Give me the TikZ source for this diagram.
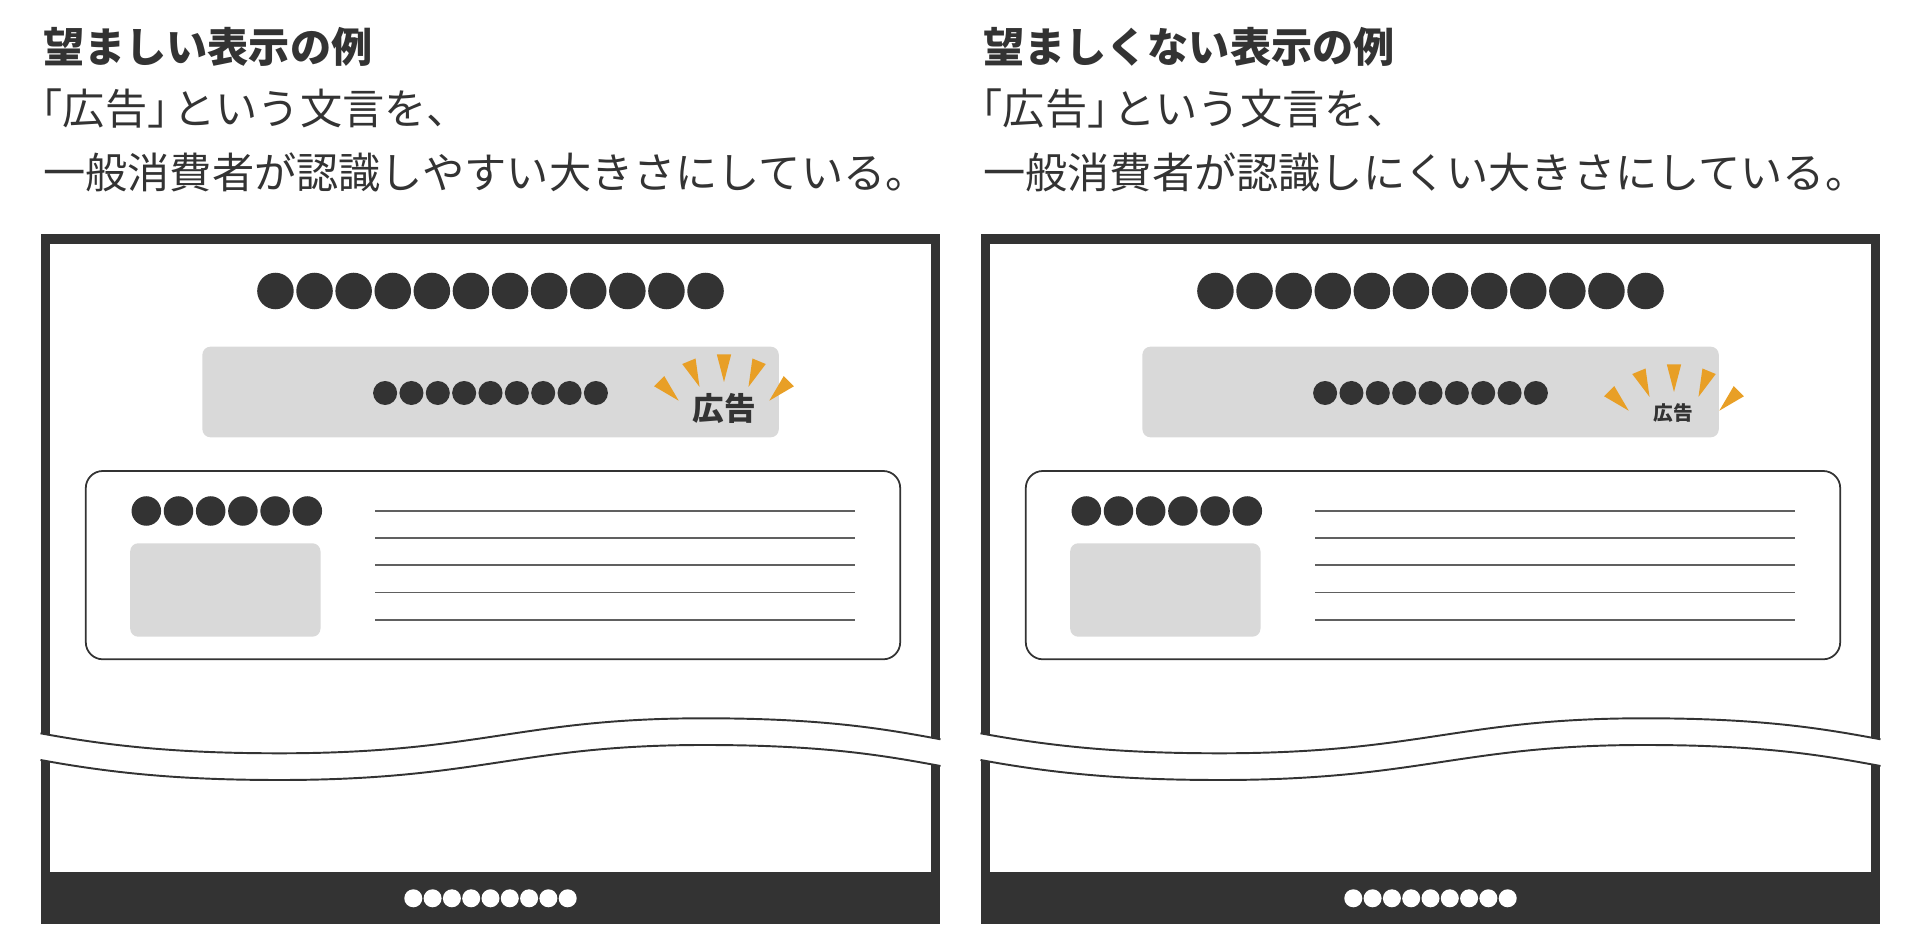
\documentclass[tikz,border=0pt]{standalone}
\usepackage{fontspec}
\setmainfont{Noto Sans CJK JP}
\definecolor{ink}{HTML}{333333}
\definecolor{panelgray}{HTML}{D9D9D9}
\definecolor{burst}{HTML}{E89F26}
\definecolor{rulegray}{HTML}{606060}

\begin{document}
\begin{tikzpicture}[x=0.01cm, y=-0.01cm,
  dot/.style={circle, fill=ink, inner sep=0pt},
  bigdot/.style={dot, minimum size=3.65mm},
  addot/.style={dot, minimum size=2.4mm},
  carddot/.style={dot, minimum size=2.95mm},
  footdot/.style={circle, fill=white, inner sep=0pt, minimum size=1.8mm},
  headline/.style={anchor=west, inner sep=0pt, text=ink, font=\fontsize{12pt}{13pt}\selectfont},
  adtag/.style={inner sep=0pt, text=ink},
  panelbox/.style={fill=panelgray, rounded corners=0.8mm},
  rule/.style={draw=rulegray, line width=0.5pt},
  wave/.style={draw=ink, line width=0.55pt}]
\useasboundingbox (0,0) rectangle (1920,946);

\foreach \p/\dx/\headtext/\bodytext/\adsize/\adx/\ady/\bx/\by in {
  L/0/{望ましい表示の例}/{一般消費者が認識しやすい大きさにしている。}/9/724/408/724/446,
  R/940/{望ましくない表示の例}/{一般消費者が認識しにくい大きさにしている。}/5.6/733.5/413/734/456}{
\begin{scope}[shift={(\dx,0)}]
% heading
\node[headline, font=\bfseries\fontsize{11.7pt}{13pt}\selectfont] (head\p) at (42.5,46.5) {\headtext};
\node[headline] (lead\p) at (20,109) {「広告」\kern-0.38em という文言を、};
\node[headline] (body\p) at (42.5,172) {\bodytext};

% page frame and footer
\draw[ink, line width=2.73pt] (45.6,238.8) rectangle (935.6,900);
\fill[ink] (40.8,871.7) rectangle (940.4,924);
\foreach \i in {0,...,11}
  \node[bigdot] (top\p\i) at ({490.5+(\i-5.5)*39.1},291) {};

% ad banner
\fill[panelbox] (202.4,346.7) rectangle (778.8,437.3);
\foreach \i in {0,...,8}
  \node[addot] (ad\p\i) at ({490.5+(\i-4)*26.35},393) {};
\node[adtag, font=\bfseries\fontsize{\adsize pt}{\adsize pt}\selectfont] (tag\p) at (\adx,\ady) {広告};
\foreach \a in {-45,-67.5,-90,-112.5,-135}
  \fill[burst, shift={(\bx,\by)}] (\a:64) -- ({\a-4.5}:92) -- ({\a+4.5}:92) -- cycle;

% content card
\draw[ink, line width=0.5pt, rounded corners=1.7mm] (85.8,471) rectangle (900.2,659.3);
\foreach \i in {0,...,5}
  \node[carddot] (card\p\i) at ({146.3+\i*32.2},511) {};
\fill[panelbox] (130.2,543.3) rectangle (320.5,636.7);
\foreach \k in {0,...,4}
  \draw[rule] (375.4,{510.7+\k*27.3}) -- (855.3,{510.7+\k*27.3});

% torn gap
\fill[white] (40,733.3) .. controls (120,748) and (190,753.3) .. (280,753.3)
  .. controls (480,753.3) and (520,718.3) .. (704,718.3)
  .. controls (820,718.3) and (880,728) .. (941,739.3) -- (941,766)
  .. controls (880,754.7) and (820,745) .. (704,745)
  .. controls (520,745) and (480,780) .. (280,780)
  .. controls (190,780) and (120,774.7) .. (40,760) -- cycle;
\foreach \s in {0,26.7}
  \draw[wave, shift={(0,\s)}] (40.5,733.3) .. controls (120,748) and (190,753.3) .. (280,753.3)
    .. controls (480,753.3) and (520,718.3) .. (704,718.3)
    .. controls (820,718.3) and (880,728) .. (940.5,739.3);

% footer text
\foreach \i in {0,...,8}
  \node[footdot] (foot\p\i) at ({490.5+(\i-4)*19.3},898.3) {};
\end{scope}
}
\end{tikzpicture}
\end{document}
